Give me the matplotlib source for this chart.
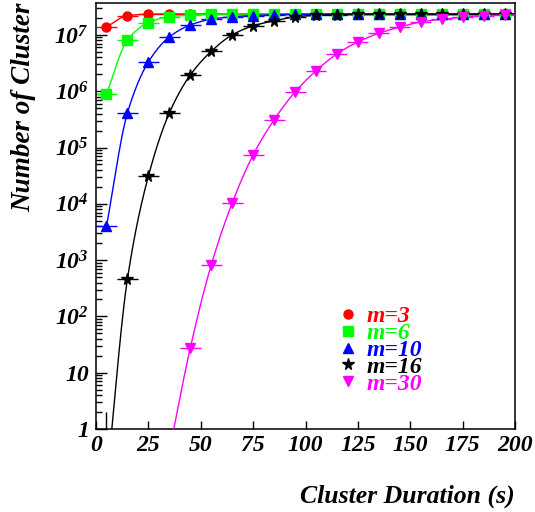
import numpy as np
import matplotlib
matplotlib.use("Agg")
from matplotlib import pyplot as plt
from matplotlib import font_manager as fm
from matplotlib.ticker import FixedLocator, NullLocator, LogLocator

bi_file = fm.findfont(fm.FontProperties(family='Liberation Serif', weight='bold', style='italic'))
plt.rcParams['font.family'] = ['Liberation Serif', 'DejaVu Serif']
plt.rcParams['font.weight'] = 'bold'
plt.rcParams['font.style'] = 'italic'
plt.rcParams['mathtext.fontset'] = 'custom'
plt.rcParams['mathtext.rm'] = 'Liberation Serif:bold:italic'
plt.rcParams['mathtext.it'] = 'Liberation Serif:bold:italic'
plt.rcParams['mathtext.bf'] = 'Liberation Serif:bold:italic'


def bi(size):
    return fm.FontProperties(fname=bi_file, size=size)


# bin centres (s)
duration = np.arange(5, 200, 10)

# number of clusters per series (nan = no entry)
n_m3 = [1.38e7, 2.2e7, 2.33e7, 2.35e7, 2.35e7, 2.35e7, 2.35e7, 2.35e7, 2.35e7, 2.35e7,
        2.35e7, 2.35e7, 2.35e7, 2.35e7, 2.35e7, 2.35e7, 2.35e7, 2.35e7, 2.35e7, 2.35e7]
n_m6 = [8.9e5, 8.1e6, 1.65e7, 2.1e7, 2.25e7, 2.32e7, 2.35e7, 2.35e7, 2.35e7, 2.35e7,
        2.35e7, 2.35e7, 2.35e7, 2.35e7, 2.35e7, 2.35e7, 2.35e7, 2.35e7, 2.35e7, 2.35e7]
n_m10 = [4.0e3, 4.1e5, 3.3e6, 9.2e6, 1.5e7, 1.9e7, 2.1e7, 2.2e7, 2.28e7, 2.32e7,
         2.34e7, 2.35e7, 2.35e7, 2.35e7, 2.35e7, 2.35e7, 2.35e7, 2.35e7, 2.35e7, 2.35e7]
n_m16 = [0.1, 4.6e2, 3.1e4, 4.1e5, 1.94e6, 5.1e6, 1.0e7, 1.45e7, 1.78e7, 2.1e7,
         2.22e7, 2.28e7, 2.32e7, 2.33e7, 2.33e7, 2.33e7, 2.33e7, 2.33e7, 2.33e7, 2.33e7]
n_m30 = [np.nan, np.nan, np.nan, 0.4, 27.5, 8.2e2, 1.03e4, 7.4e4, 3.1e5, 9.7e5,
         2.3e6, 4.6e6, 7.5e6, 1.07e7, 1.38e7, 1.7e7, 1.9e7, 2.05e7, 2.2e7, 2.25e7]
# upper error of the m=16 point in the first bin (below the axis)
m16_first_err = 1.9

labels = ['m=3', 'm=6', 'm=10', 'm=16', 'm=30']
series = [n_m3, n_m6, n_m10, n_m16, n_m30]
colors = ['#ff0000', '#00ff00', '#0000ff', '#000000', '#ff00ff']
markers = ['o', 's', '^', '*', 'v']
msizes = [6.5, 6.5, 7, 8.5, 7]

ytick_vals = [1, 10, 1e2, 1e3, 1e4, 1e5, 1e6, 1e7]
ytick_labels = ['1', '10', '$10^{2}$', '$10^{3}$', '$10^{4}$', '$10^{5}$', '$10^{6}$', '$10^{7}$']
xtick_vals = [0, 25, 50, 75, 100, 125, 150, 175, 200]


def pchip(x, y, xs):
    h = np.diff(x)
    d = np.diff(y) / h
    m = np.zeros_like(y)
    m[0] = d[0]
    m[-1] = d[-1]
    for k in range(1, len(y) - 1):
        if d[k - 1] * d[k] > 0:
            w1 = 2 * h[k] + h[k - 1]
            w2 = h[k] + 2 * h[k - 1]
            m[k] = (w1 + w2) / (w1 / d[k - 1] + w2 / d[k])
    idx = np.clip(np.searchsorted(x, xs) - 1, 0, len(x) - 2)
    t = (xs - x[idx]) / h[idx]
    h00 = 2 * t**3 - 3 * t**2 + 1
    h10 = t**3 - 2 * t**2 + t
    h01 = -2 * t**3 + 3 * t**2
    h11 = t**3 - t**2
    return h00 * y[idx] + h10 * h[idx] * m[idx] + h01 * y[idx + 1] + h11 * h[idx] * m[idx + 1]


fig = plt.figure(figsize=(5.35, 5.12), dpi=100)
ax = fig.add_axes([96 / 535, 83 / 512, 419 / 535, 426 / 512])
ax.set_yscale('log')

handles = []
for vals, lab, c, mk, ms in zip(series, labels, colors, markers, msizes):
    vals = np.asarray(vals, dtype=float)
    ok = ~np.isnan(vals)
    x = duration[ok].astype(float)
    y = vals[ok]
    err = np.sqrt(y)
    if lab == 'm=16':
        err[0] = m16_first_err
    ax.errorbar(x, y, xerr=5, yerr=[np.zeros_like(err), err], fmt='none',
                ecolor=c, elinewidth=1, capsize=0, zorder=2)
    xs = np.linspace(x[0], x[-1], 600)
    ly = pchip(x, np.log10(y), xs)
    xs = np.append(xs, 200)
    ly = np.append(ly, ly[-1])
    ax.plot(xs, 10**ly, color=c, lw=1, zorder=3)
    h, = ax.plot(x, y, ls='none', marker=mk, ms=ms, color=c, mec=c, zorder=4, label=lab)
    handles.append(h)

ax.set_xlim(0, 200)
ax.set_ylim(1, 10**(426 / 56.3))
ax.xaxis.set_major_locator(FixedLocator(xtick_vals))
ax.xaxis.set_minor_locator(NullLocator())
ax.set_xticklabels([str(v) for v in xtick_vals], fontproperties=bi(17))
ax.set_yticks(ytick_vals)
ax.set_yticklabels(ytick_labels, fontproperties=bi(17))
ax.yaxis.set_minor_locator(LogLocator(base=10, subs=np.arange(2, 10)))
ax.tick_params(axis='both', which='both', direction='in')
ax.tick_params(axis='y', which='major', length=8, width=1, pad=5)
ax.tick_params(axis='y', which='minor', length=4.5, width=1)
ax.tick_params(axis='x', which='major', length=6, width=1, pad=4)
for sp in ax.spines.values():
    sp.set_linewidth(1.1)

ax.set_xlabel('Cluster Duration (s)', fontproperties=bi(18.5), loc='right', labelpad=21)
ax.set_ylabel('Number of Cluster', fontproperties=bi(19.5), loc='top', labelpad=13)

leg = ax.legend(handles=handles, loc='center left', bbox_to_anchor=(0.55, 0.185),
                frameon=False, prop=bi(17), labelspacing=-0.2, handlelength=0.8,
                handletextpad=0.4, borderpad=0, labelcolor=colors)

fig.savefig('out.png', dpi=100)
